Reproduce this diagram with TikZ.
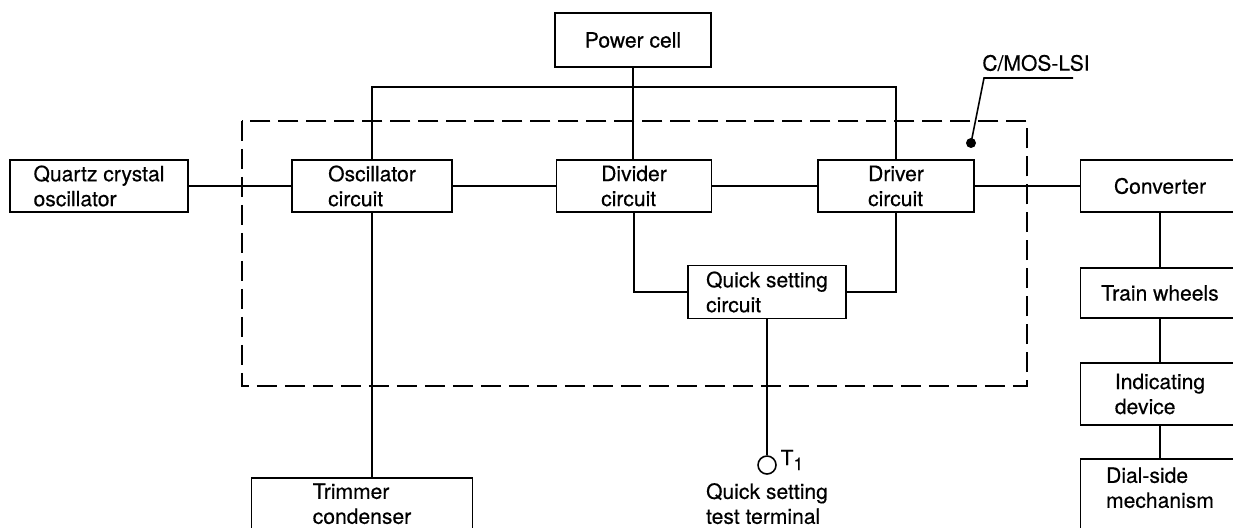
\documentclass[tikz,border=0pt]{standalone}
\usepackage{fontspec}
\setmainfont{TeX Gyre Heros}[FakeBold=0.4]
\usepackage{tikz}
\usetikzlibrary{positioning, calc}
\tikzset{
  block/.style={rectangle, draw=black, line width=0.9pt, fill=white,
    align=left, minimum height=1.04cm, inner sep=0pt,
    font=\fontsize{12}{14.2}\selectfont},
  openblock/.style={block, anchor=north, minimum height=0pt, text depth=0.6cm},
  wire/.style={line width=0.9pt, color=black},
  chipline/.style={line width=0.9pt, dash pattern=on 0.4cm off 0.16cm},
  lbl/.style={font=\fontsize{12}{14.2}\selectfont, align=left, inner sep=0pt}
}

\begin{document}
\begin{tikzpicture}[x=0.02cm, y=-0.02cm]
\useasboundingbox (0,0) rectangle (1233,527);
\clip (0,0) rectangle (1233,527);
% LSI outline
\draw[chipline] (242,121) rectangle (1027,386);
% blocks
\node[block, minimum width=3.12cm, minimum height=1.08cm] (pwr) at (633,40) {Power cell};
\node[block, minimum width=3.56cm] (qtz) at (99,186) {Quartz crystal\\oscillator};
\node[block, minimum width=3.2cm] (osc) at (372,186) {Oscillator\\circuit};
\node[block, minimum width=3.1cm] (div) at (634,186) {Divider\\circuit};
\node[block, minimum width=3.12cm] (drv) at (896,186) {Driver\\circuit};
\node[block, minimum width=3.18cm] (conv) at (1160,186) {Converter};
\node[block, minimum width=3.16cm, minimum height=1.06cm] (qsc) at (767,292) {Quick setting\\circuit};
\node[block, minimum width=3.18cm, minimum height=1.0cm] (train) at (1160,293) {Train wheels};
\node[block, minimum width=3.18cm, minimum height=1.24cm] (ind) at (1160,394) {Indicating\\device};
\node[openblock, minimum width=4.42cm, text height=0.92cm] (trim) at (362,477) {Trimmer\\condenser};
\node[openblock, minimum width=3.18cm, text height=0.98cm] (dial) at (1160,458) {Dial-side\\mechanism};
% test terminal
\node[circle, draw, line width=0.9pt, minimum size=0.36cm, inner sep=0pt] (tterm) at (767,465) {};
\node[lbl] (tlbl) at (792,460) {T\raisebox{-0.1cm}{\fontsize{10}{12}\selectfont 1}};
\node[lbl, below=0.16cm of tterm] (ttext) {Quick setting\\test terminal};
% C/MOS-LSI leader
\node[lbl] (lsi) at (1036,63) {C/MOS-LSI};
\node[circle, fill=black, minimum size=0.2cm, inner sep=0pt] (lsidot) at (971,143) {};
\coordinate (lsibend) at (984,78);
\coordinate (lsiend) at (1073,78);
\draw[wire] (lsidot.center) -- (lsibend) -- (lsiend);
% connections
\draw[wire] (osc.north) -- ++(0,-72) -| (drv.north);
\draw[wire] (pwr.south) -- (pwr.south |- div.north);
\draw[wire] (qtz.east) -- (osc.west);
\draw[wire] (osc.east) -- (div.west);
\draw[wire] (div.east) -- (drv.west);
\draw[wire] (drv.east) -- (conv.west);
\draw[wire] (div.south) |- (qsc.west);
\draw[wire] (drv.south) |- (qsc.east);
\draw[wire] (qsc.south) -- (tterm.north);
\draw[wire] (osc.south) -- (osc.south |- trim.north);
\draw[wire] (conv.south) -- (train.north);
\draw[wire] (train.south) -- (ind.north);
\draw[wire] (ind.south) -- (dial.north);
\end{tikzpicture}
\end{document}
